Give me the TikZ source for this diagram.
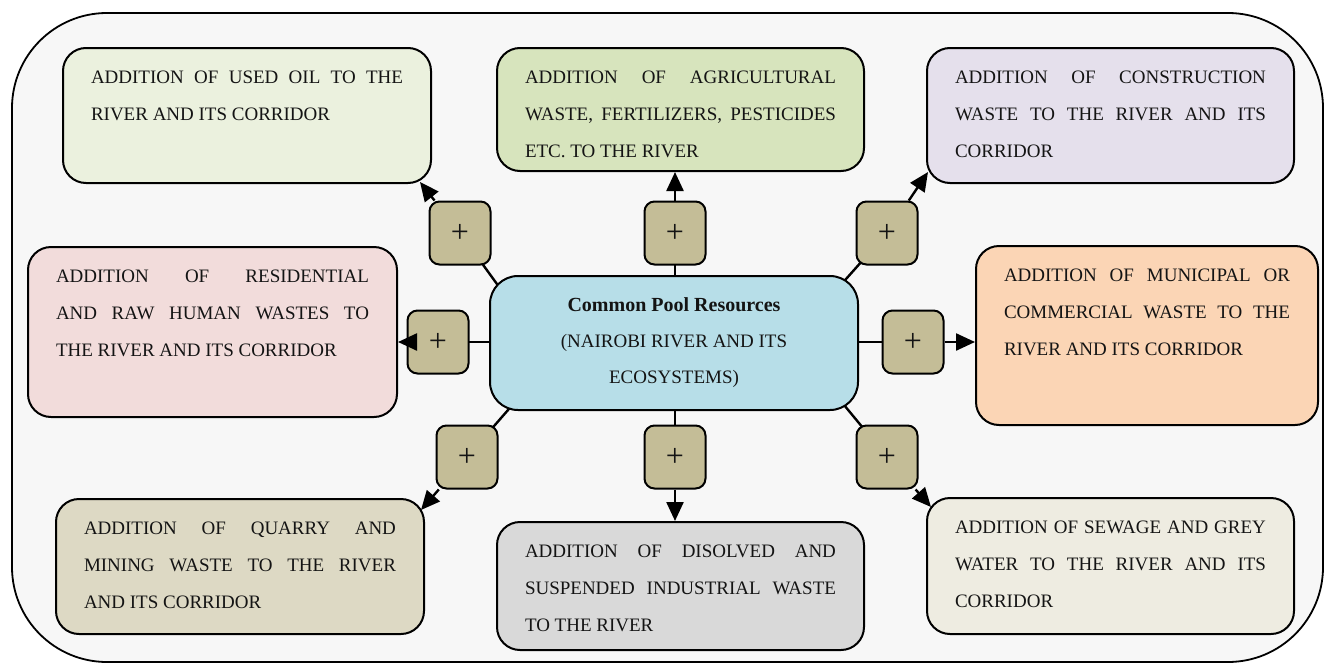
\documentclass[tikz,border=0pt]{standalone}
\usepackage{fontspec}
\setmainfont{Liberation Serif}
\usetikzlibrary{arrows.meta,calc}
\pgfdeclarelayer{bottom}
\pgfdeclarelayer{background}
\pgfsetlayers{bottom,background,main}
\definecolor{framec}{HTML}{F7F7F7}
\definecolor{cOil}{HTML}{EBF1DE}
\definecolor{cAgri}{HTML}{D7E4BD}
\definecolor{cCons}{HTML}{E5E0EC}
\definecolor{cResi}{HTML}{F2DCDB}
\definecolor{cCent}{HTML}{B7DEE8}
\definecolor{cMuni}{HTML}{FBD5B5}
\definecolor{cQuar}{HTML}{DDD9C4}
\definecolor{cDiss}{HTML}{D9D9D9}
\definecolor{cSewa}{HTML}{EEECE1}
\definecolor{plusc}{HTML}{C4BD97}
\definecolor{txt}{HTML}{141414}
\hbadness=10000
\tolerance=10000
\newcommand{\btxt}[3]{\parbox[c][#2][t]{\dimexpr#1-56pt\relax}{\rule{0pt}{35pt}#3}}
\tikzset{
  tbox/.style={draw, line width=2pt, rounded corners=23pt, inner xsep=28pt, inner ysep=0pt,
    font=\fontsize{19}{37}\selectfont, text=txt},
  pbox/.style={draw, line width=2pt, fill=plusc, rounded corners=10pt, minimum width=61pt,
    minimum height=63pt, inner sep=0pt, font=\fontsize{32}{32}\selectfont, text=txt},
  conn/.style={line width=2.4pt},
  arr/.style={conn, -{Triangle[length=19pt,width=17pt]}}
}
\begin{document}
\begin{tikzpicture}[x=1pt,y=-1pt]
\useasboundingbox (0,0) rectangle (1325,664);
\begin{pgfonlayer}{bottom}
\draw[line width=1.8pt, fill=framec, rounded corners=95pt] (12,13) rectangle (1323,662);
\end{pgfonlayer}

% outer boxes
\node[tbox, fill=cOil] (oil) at (247,115.5) {\btxt{368pt}{135pt}{ADDITION OF USED OIL TO THE\linebreak RIVER AND ITS CORRIDOR}};
\node[tbox, fill=cAgri] (agri) at (680.5,109.5) {\btxt{367pt}{123pt}{ADDITION OF AGRICULTURAL\linebreak WASTE, FERTILIZERS, PESTICIDES\linebreak ETC. TO THE RIVER}};
\node[tbox, fill=cCons] (cons) at (1110.5,115.5) {\btxt{367pt}{135pt}{ADDITION OF CONSTRUCTION\linebreak WASTE TO THE RIVER AND ITS\linebreak CORRIDOR}};
\node[tbox, fill=cResi] (resi) at (212.5,332) {\btxt{369pt}{170pt}{ADDITION OF RESIDENTIAL\linebreak AND RAW HUMAN WASTES TO\linebreak THE RIVER AND ITS CORRIDOR}};
\node[tbox, fill=cMuni] (muni) at (1147,335.5) {\btxt{342pt}{179pt}{ADDITION OF MUNICIPAL OR\linebreak COMMERCIAL WASTE TO THE\linebreak RIVER AND ITS CORRIDOR}};
\node[tbox, fill=cQuar] (quar) at (240,566.5) {\btxt{368pt}{135pt}{ADDITION OF QUARRY AND\linebreak MINING WASTE TO THE RIVER\linebreak AND ITS CORRIDOR}};
\node[tbox, fill=cDiss] (diss) at (680.5,586) {\btxt{367pt}{128pt}{ADDITION OF DISOLVED AND\linebreak SUSPENDED INDUSTRIAL WASTE\linebreak TO THE RIVER}};
\node[tbox, fill=cSewa] (sewa) at (1110.5,566) {\btxt{367pt}{136pt}{ADDITION OF SEWAGE AND GREY\linebreak WATER TO THE RIVER AND ITS\linebreak CORRIDOR}};

% center
\node[draw, line width=2pt, rounded corners=28pt, fill=cCent, minimum width=368pt, minimum height=134pt,
  align=center, text=txt, font=\fontsize{19}{36}\selectfont] (center) at (674,343)
  {{\fontsize{20}{36}\selectfont\bfseries Common Pool Resources}\\(NAIROBI RIVER AND ITS\\ECOSYSTEMS)};

% plus boxes
\node[pbox] (pUL) at (460,233) {+};
\node[pbox] (pUC) at (675,233) {+};
\node[pbox] (pUR) at (887,233) {+};
\node[pbox] (pL)  at (438,342) {+};
\node[pbox] (pR)  at (913,342) {+};
\node[pbox] (pLL) at (467,457) {+};
\node[pbox] (pLC) at (675,457) {+};
\node[pbox] (pLR) at (887,457) {+};

% connector end points
\coordinate (cUL) at (510,302);
\coordinate (cUC) at (675,300);
\coordinate (cUR) at (830,297);
\coordinate (cL)  at (520,342);
\coordinate (cR)  at (830,342);
\coordinate (cLL) at (522,394);
\coordinate (cLC) at (675,390);
\coordinate (cLR) at (830,388);
\coordinate (tUL) at (420,182);
\coordinate (tUC) at (675,172);
\coordinate (tUR) at (928,172);
\coordinate (tL)  at (398,342);
\coordinate (tR)  at (975,342);
\coordinate (tLL) at (421,510);
\coordinate (tLC) at (675,521);
\coordinate (tLR) at (931,507);

\begin{pgfonlayer}{background}
\foreach \k in {UL,UC,UR,L,R,LL,LC,LR}{
  \draw[conn] (c\k) -- (p\k.center);
}
\end{pgfonlayer}
\foreach \k in {UL,UC,UR,L,R,LL,LC,LR}{
  \draw[arr] (p\k) -- (t\k);
}
\end{tikzpicture}
\end{document}
